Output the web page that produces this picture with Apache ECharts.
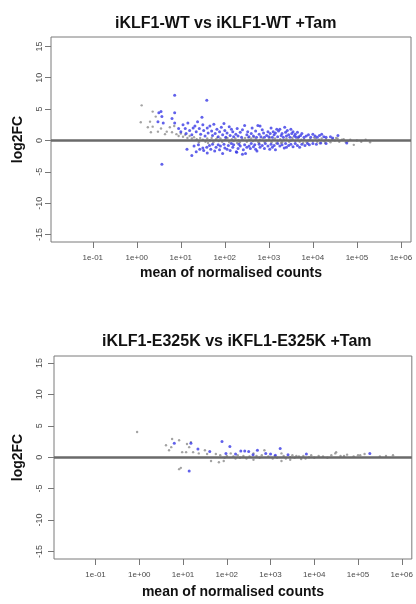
<!DOCTYPE html>
<html>
<head>
<meta charset="utf-8">
<script src="https://cdn.jsdelivr.net/npm/echarts@6.0.0/dist/echarts.min.js"></script>
<style>
	html, body { margin: 0; padding: 0; background: #fff; }
	#main { width: 416px; height: 604px; }
</style>
</head>
<body>
<div id="main"></div>
<script>
// 坐标刻度 (x 为 log10 平均计数)
var xTicks = [-1, 0, 1, 2, 3, 4, 5, 6];
var yTicks = [-15, -10, -5, 0, 5, 10, 15];

// 标题
var titles = ["iKLF1-WT vs iKLF1-WT +Tam", "iKLF1-E325K vs iKFL1-E325K +Tam"];

// 图1 显著 (蓝) : [log10 mean, log2FC]
var wtSig = [
	[0.86,7.2],[1.59,6.4],[0.55,4.6],[0.5,4.4],[0.86,4.4],[0.57,3.8],[1.48,3.7],[0.8,3.5],[0.48,3.0],[0.6,2.8],
	[0.86,2.8],[1.05,2.5],[1.16,2.8],[1.32,2.3],[1.5,2.5],[1.66,2.3],[1.82,1.8],[1.98,2.7],[2.15,1.8],[2.45,2.4],
	[2.8,2.3],[3.1,1.4],[3.25,1.8],[3.5,1.8],[2.75,2.4],[3.18,1.8],[3.36,2.1],[3.55,1.4],[4.0,1.0],[4.2,1.0],[4.57,0.8],
	[0.95,1.9],[1.0,1.4],[1.1,1.9],[1.12,1.1],[1.2,1.6],[1.25,0.9],[1.28,2.0],[1.35,1.4],[1.38,3.0],[1.42,1.9],
	[1.45,1.0],[1.52,1.6],[1.55,0.7],[1.6,2.0],[1.62,1.2],[1.7,1.5],[1.72,0.8],[1.75,2.6],[1.78,1.1],[1.85,0.6],
	[1.88,1.4],[1.92,2.1],[1.95,0.9],[2.0,1.6],[2.02,0.5],[2.05,1.2],[2.1,2.2],[2.12,0.8],[2.18,1.4],[2.2,0.6],
	[2.25,1.0],[2.28,1.9],[2.3,0.7],[2.35,1.3],[2.38,0.5],[2.4,1.7],[2.5,0.9],[2.52,1.4],[2.55,0.6],[2.6,1.1],
	[2.62,2.0],[2.65,0.7],[2.7,1.5],[2.72,0.5],[2.78,1.0],[2.82,0.6],[2.85,1.7],[2.88,1.2],[2.9,0.5],[2.95,0.8],
	[2.98,1.4],[3.0,0.6],[3.03,1.1],[3.05,2.0],[3.08,0.5],[3.12,0.9],[3.15,1.2],[3.2,0.6],[3.22,1.5],[3.28,0.8],
	[3.3,1.1],[3.33,0.5],[3.38,1.3],[3.4,0.7],[3.42,1.6],[3.45,0.9],[3.48,0.5],[3.52,1.1],[3.58,0.7],[3.6,1.0],
	[3.62,0.5],[3.65,1.3],[3.68,0.6],[3.72,0.8],[3.75,1.1],[3.8,0.5],[3.85,0.7],[3.9,0.9],[3.95,0.5],[4.05,0.7],
	[4.1,0.5],[4.15,0.8],[4.25,0.6],[4.3,0.5],[4.4,0.6],[4.45,0.4],
	[0.57,-3.8],[1.14,-1.4],[1.25,-2.4],[1.43,-1.4],[1.59,-1.1],[1.77,-1.7],[2.05,-1.4],[2.27,-1.9],[2.5,-1.1],
	[2.73,-1.7],[3.02,-1.4],[3.4,-1.1],[2.4,-2.2],[2.47,-2.1],[1.6,-2.0],[2.26,-1.8],[1.95,-2.1],
	[1.3,-0.9],[1.35,-1.8],[1.4,-0.7],[1.5,-1.2],[1.52,-1.6],[1.65,-0.8],[1.68,-1.4],[1.72,-0.6],[1.8,-1.1],
	[1.85,-0.7],[1.88,-1.5],[1.9,-0.9],[1.98,-0.6],[2.0,-1.2],[2.08,-0.8],[2.12,-1.6],[2.15,-0.5],[2.18,-1.1],
	[2.2,-0.7],[2.3,-1.3],[2.32,-0.6],[2.35,-0.9],[2.42,-1.5],[2.45,-0.7],[2.55,-0.9],[2.58,-1.3],[2.6,-0.5],
	[2.65,-1.0],[2.68,-0.7],[2.7,-1.4],[2.78,-0.6],[2.8,-1.1],[2.85,-0.8],[2.9,-1.3],[2.92,-0.5],[2.98,-0.9],
	[3.05,-0.6],[3.08,-1.1],[3.12,-0.8],[3.15,-1.5],[3.2,-0.5],[3.25,-0.9],[3.3,-0.7],[3.35,-1.2],[3.38,-0.5],
	[3.45,-0.8],[3.5,-0.6],[3.55,-1.0],[3.6,-0.5],[3.65,-0.8],[3.7,-1.1],[3.75,-0.6],[3.82,-0.8],[3.88,-0.5],
	[3.92,-0.7],[4.0,-0.5],[4.08,-0.6],[4.18,-0.4],[4.3,-0.5],[4.77,-0.4]
];
// 图1 不显著 (灰)
var wtNs = [
	[0.11,5.6],[0.36,4.6],[0.43,3.8],[0.09,2.9],[0.3,3.0],[0.25,2.1],[0.36,2.2],[0.32,1.3],[0.48,1.4],[0.68,1.4],
	[0.75,2.1],[0.8,1.3],[0.64,1.0],[0.55,1.9],[0.9,1.0],[0.95,0.7],[1.0,1.1],[1.05,0.6],[1.1,0.9],[1.15,0.4],
	[1.2,0.7],[1.25,0.3],[0.85,2.3],
	[1.3,0.5],[1.36,0.2],[1.41,-0.3],[1.44,0.4],[1.5,0.1],[1.56,-0.2],[1.6,0.3],[1.66,0.0],[1.7,0.4],[1.74,-0.3],
	[1.8,0.2],[1.86,-0.1],[1.9,0.3],[1.94,-0.2],[2.01,0.1],[2.06,0.4],[2.1,-0.3],[2.16,0.2],[2.2,-0.1],[2.24,0.3],
	[2.31,0.0],[2.34,-0.3],[2.4,0.2],[2.46,0.4],[2.5,-0.2],[2.56,0.1],[2.6,0.3],[2.64,-0.1],[2.7,0.2],[2.76,-0.3],
	[2.8,0.1],[2.86,0.3],[2.9,-0.2],[2.94,0.0],[3.0,0.2],[3.06,-0.3],[3.1,0.1],[3.14,0.3],[3.2,-0.1],[3.26,0.2],
	[3.3,-0.3],[3.34,0.1],[3.4,0.3],[3.46,-0.2],[3.5,0.0],[3.54,0.2],[3.6,-0.1],[3.66,0.3],[3.7,-0.2],[3.74,0.1],
	[3.8,0.2],[3.86,-0.3],[3.9,0.0],[3.94,0.2],[4.0,-0.1],[4.06,0.3],[4.1,-0.2],[4.14,0.1],[4.2,0.3],[4.26,-0.1],
	[4.3,0.2],[4.36,0.0],[4.4,-0.3],[4.44,0.2],[4.5,0.0],[4.56,0.3],[4.6,-0.2],[4.66,0.1],[4.7,0.2],[4.8,-0.1],
	[4.85,0.1],[4.93,-0.7],[5.0,0.0],[5.1,-0.2],[5.2,0.1],[5.3,-0.3],
	[2.03,0.45],[2.28,-0.4],[2.53,0.45],[2.78,-0.4],[3.03,0.45],[3.28,-0.4],[3.53,0.45],[3.78,-0.4],[4.03,0.45],
	[4.28,-0.4],[4.53,0.4],[4.75,-0.3],[1.62,-0.4],[1.83,0.45],[2.66,0.5],[3.17,-0.45],[3.68,0.5],[4.16,-0.45]
];

// 图2 显著 (蓝)
var ekSig = [
	[0.8,2.2],[1.18,2.2],[1.89,2.5],[2.07,1.7],[1.34,1.3],[3.22,1.4],[1.61,0.9],[1.98,0.6],[2.32,1.0],[2.41,1.0],
	[2.5,0.9],[2.7,1.1],[2.89,0.6],[3.0,0.5],[3.11,0.3],[3.82,0.5],[5.27,0.6],[1.14,-2.2],[2.6,0.4],[3.4,0.4],[2.2,0.5]
];
// 图2 不显著 (灰)
var ekNs = [
	[-0.05,4.0],[0.75,2.9],[0.91,2.7],[0.61,1.9],[0.68,1.1],[0.73,1.6],[1.09,2.1],[1.14,1.6],[1.18,2.4],[0.98,0.8],
	[1.07,0.8],[1.23,0.8],[1.36,0.6],[1.5,1.1],[1.55,0.5],[1.75,0.5],[1.64,-0.6],[0.95,-1.7],[0.91,-1.9],[1.82,-0.8],
	[1.93,-0.6],[2.09,0.6],[2.2,-0.2],[2.61,0.6],[2.61,-0.4],[2.86,1.1],[3.25,0.6],[3.25,-0.6],[3.45,0.0],[3.45,-0.4],
	[3.59,0.2],[3.8,-0.2],[3.93,0.3],[4.39,0.3],[4.5,0.8],[4.6,0.2],[4.68,0.2],[5.0,0.3],[5.64,0.2],[5.8,0.3],
	[4.48,0.6],[5.05,0.3],[1.85,0.3],[1.95,-0.1],[2.0,0.2],[2.15,0.1],[2.25,0.3],[2.3,-0.1],[2.38,0.2],[2.45,-0.2],
	[2.52,0.1],[2.68,0.2],[2.75,-0.1],[2.8,0.3],[2.95,0.1],[3.05,-0.2],[3.1,0.2],[3.15,-0.1],[3.3,0.2],[3.35,-0.2],
	[3.5,0.3],[3.55,-0.1],[3.65,0.1],[3.7,-0.3],[3.75,0.2],[3.88,0.0],[4.0,-0.1],[4.1,0.2],[4.2,0.1],[4.3,-0.1],
	[4.75,0.4],[4.9,0.1],[5.15,0.5],[5.5,0.1]
];

var myChart = echarts.init(document.getElementById('main'));

// R 风格的 1e+02 标签
function sciLabel(v) {
	var e = Math.round(v), a = Math.abs(e);
	return '1e' + (e < 0 ? '-' : '+') + (a < 10 ? '0' : '') + a;
}

var tickLine = { color: '#777', width: 1 };

function makeX(idx, gap) {
	return {
		gridIndex: idx, type: 'value', min: -1.95, max: 6.23,
		axisLine: { show: false, onZero: false }, splitLine: { show: false },
		axisTick: { show: true, customValues: xTicks, length: 6, lineStyle: tickLine },
		axisLabel: { customValues: xTicks, formatter: sciLabel, fontSize: 8, color: '#4a4a4a', margin: 12, fontFamily: 'Liberation Sans' },
		name: 'mean of normalised counts', nameLocation: 'middle', nameGap: gap,
		nameTextStyle: { fontSize: 14, fontWeight: 'bold', color: '#111', fontFamily: 'Liberation Sans' }
	};
}
function makeY(idx, min, max, margin, gap) {
	return {
		gridIndex: idx, type: 'value', min: min, max: max,
		axisLine: { show: false, onZero: false }, splitLine: { show: false },
		axisTick: { show: true, customValues: yTicks, length: 6, lineStyle: tickLine },
		axisLabel: { customValues: yTicks, rotate: 90, fontSize: 9, color: '#4a4a4a', margin: margin, fontFamily: 'Liberation Sans' },
		name: 'log2FC', nameLocation: 'middle', nameGap: gap,
		nameTextStyle: { fontSize: 14, fontWeight: 'bold', color: '#111', fontFamily: 'Liberation Sans' }
	};
}
function nsSeries(idx, data) {
	return { type: 'scatter', xAxisIndex: idx, yAxisIndex: idx, data: data, symbolSize: 2.4, silent: true,
		itemStyle: { color: '#8c8c8c' } };
}
function sigSeries(idx, data) {
	return { type: 'scatter', xAxisIndex: idx, yAxisIndex: idx, data: data, symbolSize: 3, silent: true,
		itemStyle: { color: '#3a3ae6' },
		markLine: { silent: true, symbol: 'none', label: { show: false }, animation: false,
			lineStyle: { color: '#6a6a6a', width: 2.5, type: 'solid' }, data: [{ yAxis: 0 }] } };
}

var option = {
	animation: false,
	backgroundColor: '#fff',
	title: [
		{ text: titles[0], left: 110, top: 11, textStyle: { fontSize: 16, fontWeight: 'bold', color: '#111', fontFamily: 'Liberation Sans' } },
		{ text: titles[1], left: 97, top: 329, textStyle: { fontSize: 16, fontWeight: 'bold', color: '#111', fontFamily: 'Liberation Sans' } }
	],
	grid: [
		{ left: 51, top: 37, width: 360, height: 205, show: true, borderColor: '#7a7a7a', borderWidth: 1, backgroundColor: 'transparent' },
		{ left: 54, top: 356, width: 360, height: 203, show: true, borderColor: '#7a7a7a', borderWidth: 1, backgroundColor: 'transparent' }
	],
	xAxis: [makeX(0, 24), makeX(1, 26)],
	yAxis: [makeY(0, -16.2, 16.5, 7, 26), makeY(1, -16.2, 16.1, 10, 29)],
	series: [
		nsSeries(0, wtNs), sigSeries(0, wtSig),
		nsSeries(1, ekNs), sigSeries(1, ekSig)
	]
};
myChart.setOption(option);
</script>
</body>
</html>
